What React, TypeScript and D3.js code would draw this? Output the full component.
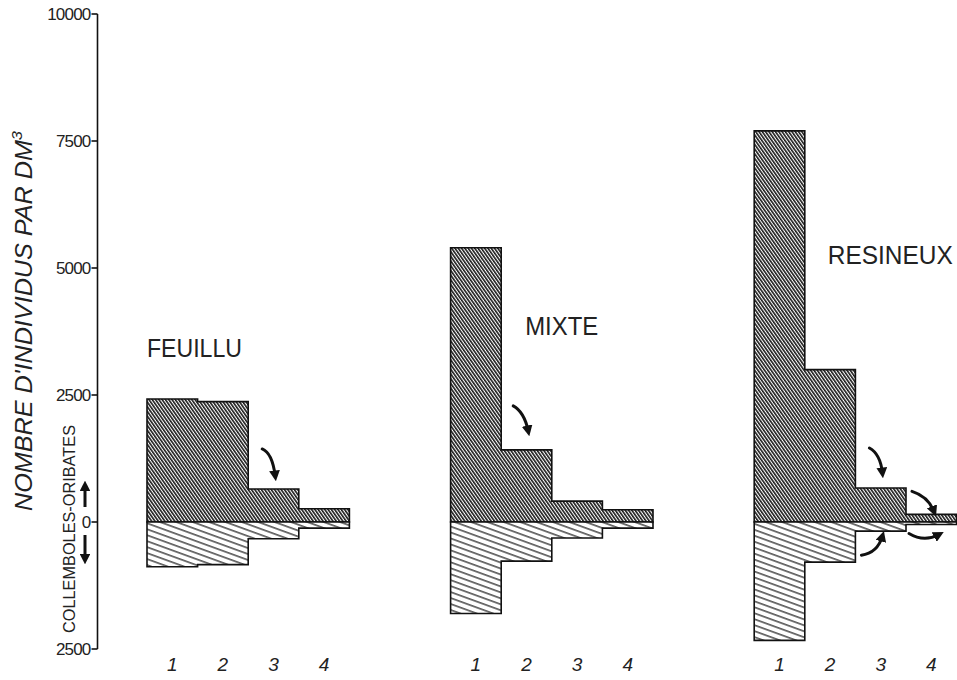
import * as d3 from "d3";

// number of individuals per dm3
const categories = ["1", "2", "3", "4"];
const groups = ["FEUILLU", "MIXTE", "RESINEUX"];
const feuilluCollemboles = [2420, 2370, 650, 260];
const feuilluOribates = [880, 840, 330, 120];
const mixteCollemboles = [5400, 1420, 410, 240];
const mixteOribates = [1800, 770, 315, 120];
const resineuxCollemboles = [7700, 3000, 670, 150];
const resineuxOribates = [2330, 790, 180, 50];
const yTickValues = [-2500, 0, 2500, 5000, 7500, 10000];

const collemboles = [feuilluCollemboles, mixteCollemboles, resineuxCollemboles];
const oribates = [feuilluOribates, mixteOribates, resineuxOribates];

// curved arrows: group, bar, side, start/control/end offsets from the bar corner (px)
const arrows = [
  { g: 0, bar: 2, side: "top", s: [14, -40], c: [24, -36], e: [27, -13] },
  { g: 1, bar: 1, side: "top", s: [12, -44], c: [23, -38], e: [27, -19] },
  { g: 2, bar: 2, side: "top", s: [14, -40], c: [25, -34], e: [27, -15] },
  { g: 2, bar: 3, side: "top", s: [6, -23], c: [22, -18], e: [28, -3] },
  { g: 2, bar: 2, side: "bottom", s: [6, 24], c: [22, 22], e: [27, 5] },
  { g: 2, bar: 3, side: "bottom", s: [3, 9], c: [18, 18], e: [33, 10] },
];

const W = 957;
const H = 680;
const SLOTS_PER_GROUP = 6;
const FONT = "'Liberation Sans', Arial, sans-serif";

export default function App() {
  const y = d3.scaleLinear().domain([-2500, 10000]).range([649, 14]);
  const x = d3.scaleLinear().domain([0, 16]).range([147, 956.6]);
  const axisX = 97.5;

  const step = (start: number, sign: number) =>
    d3
      .area<number>()
      .x((_, i) => x(start + i))
      .y0(y(0))
      .y1((d) => y(sign * d))
      .curve(d3.curveStepAfter);

  const curve = (a: number[], c: number[], b: number[]) => {
    const p = d3.path();
    p.moveTo(a[0], a[1]);
    p.quadraticCurveTo(c[0], c[1], b[0], b[1]);
    return p.toString();
  };

  return (
    <svg
      width={W}
      height={H}
      style={{ position: "absolute", left: 0, top: 0, background: "#fff" }}
      fontFamily={FONT}
    >
      <defs>
        <pattern id="dense" width={2.7} height={10} patternUnits="userSpaceOnUse" patternTransform="rotate(-35)">
          <rect width={2.7} height={10} fill="#fff" />
          <line x1={0.8} y1={0} x2={0.8} y2={10} stroke="#1a1a1a" strokeWidth={1.6} />
        </pattern>
        <pattern id="sparse" width={5.6} height={10} patternUnits="userSpaceOnUse" patternTransform="rotate(-70)">
          <rect width={5.6} height={10} fill="#fff" />
          <line x1={1} y1={0} x2={1} y2={10} stroke="#1a1a1a" strokeWidth={1.2} />
        </pattern>
        <marker id="head" viewBox="0 0 10 10" refX={5} refY={5} markerWidth={3.6} markerHeight={3.6} orient="auto">
          <path d="M0,0 L10,5 L0,10 z" fill="#111" />
        </marker>
      </defs>

      {/* y axis */}
      <line x1={axisX} x2={axisX} y1={y(10000)} y2={y(-2500)} stroke="#111" strokeWidth={1.6} />
      {yTickValues.map((v) => (
        <g key={v}>
          <line x1={axisX - 6} x2={axisX} y1={y(v)} y2={y(v)} stroke="#111" strokeWidth={1.6} />
          <text x={axisX - 7} y={y(v)} dy="0.36em" textAnchor="end" fontSize={17} fill="#222" letterSpacing={-0.8}>
            {Math.abs(v)}
          </text>
        </g>
      ))}

      <text
        transform={`translate(32,${321}) rotate(-90)`}
        textAnchor="middle"
        fontSize={23}
        fontStyle="italic"
        fill="#222"
        textLength={380}
        lengthAdjust="spacingAndGlyphs"
      >
        NOMBRE  D'INDIVIDUS  PAR  DM<tspan dy={-10} fontSize={15}>3</tspan>
      </text>
      <text
        transform={`translate(75,${529}) rotate(-90)`}
        textAnchor="middle"
        fontSize={16}
        fill="#222"
        textLength={208}
        lengthAdjust="spacingAndGlyphs"
      >
        COLLEMBOLES-ORIBATES
      </text>
      <path d={`M85,${y(0) - 15} L85,${y(0) - 36}`} stroke="#111" strokeWidth={3} markerEnd="url(#head)" />
      <path d={`M85,${y(0) + 13} L85,${y(0) + 37}`} stroke="#111" strokeWidth={3} markerEnd="url(#head)" />

      {/* step histograms */}
      {groups.map((name, g) => {
        const start = g * SLOTS_PER_GROUP;
        const up = collemboles[g];
        const down = oribates[g];
        return (
          <g key={name}>
            <path
              d={step(start, 1)([...up, up[up.length - 1]]) || ""}
              fill="url(#dense)"
              stroke="#111"
              strokeWidth={1.6}
            />
            <path
              d={step(start, -1)([...down, down[down.length - 1]]) || ""}
              fill="url(#sparse)"
              stroke="#111"
              strokeWidth={1.6}
            />
            {categories.map((c, i) => (
              <text
                key={c}
                x={x(start + i + 0.5)}
                y={671}
                textAnchor="middle"
                fontSize={19}
                fontStyle="italic"
                fill="#222"
              >
                {c}
              </text>
            ))}
          </g>
        );
      })}

      {/* group names */}
      <text x={x(0)} y={357} fontSize={25} fill="#222" textLength={95} lengthAdjust="spacingAndGlyphs">
        {groups[0]}
      </text>
      <text x={x(SLOTS_PER_GROUP + 1) + 24} y={335} fontSize={25} fill="#222" textLength={73} lengthAdjust="spacingAndGlyphs">
        {groups[1]}
      </text>
      <text x={x(2 * SLOTS_PER_GROUP + 1) + 23} y={264} fontSize={25} fill="#222" textLength={125} lengthAdjust="spacingAndGlyphs">
        {groups[2]}
      </text>

      {/* arrows */}
      {arrows.map((a, k) => {
        const vals = a.side === "top" ? collemboles[a.g] : oribates[a.g];
        const bx = x(a.g * SLOTS_PER_GROUP + a.bar);
        const by = y(a.side === "top" ? vals[a.bar] : -vals[a.bar]);
        const pt = (o: number[]) => [bx + o[0], by + o[1]];
        return (
          <path
            key={k}
            d={curve(pt(a.s), pt(a.c), pt(a.e))}
            fill="none"
            stroke="#111"
            strokeWidth={3}
            strokeLinecap="round"
            markerEnd="url(#head)"
          />
        );
      })}
    </svg>
  );
}
